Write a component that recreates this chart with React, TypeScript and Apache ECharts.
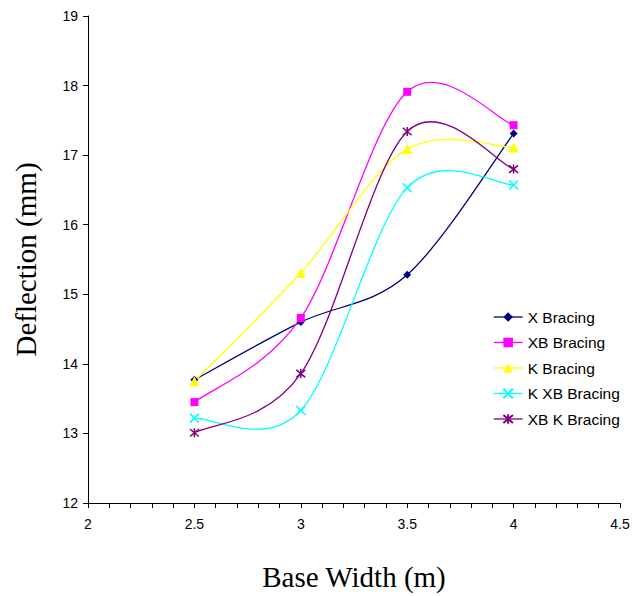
import React, { useEffect, useRef } from "react";
import * as echarts from "echarts";

const baseWidths = [2.5, 3, 3.5, 4];
const seriesNames = ["X Bracing", "XB Bracing", "K Bracing", "K XB Bracing", "XB K Bracing"];
const xBracing = [13.77, 14.6, 15.28, 17.31];
const xbBracing = [13.45, 14.66, 17.91, 17.43];
const kBracing = [13.75, 15.31, 17.09, 17.11];
const kxbBracing = [13.22, 13.33, 16.53, 16.57];
const xbkBracing = [13.01, 13.86, 17.34, 16.8];

const colors = ["#000080", "#FF00FF", "#FFFF00", "#00FFFF", "#800080"];
const symbols = [
  "diamond",
  "rect",
  "triangle",
  "path://M0,0L10,10M10,0L0,10",
  "path://M0,0L10,10M10,0L0,10M5,-1L5,11",
];
const symbolSizes = [8, 8, 10, 9, 9];

export default function App() {
  const ref = useRef<HTMLDivElement>(null);
  useEffect(() => {
    if (!ref.current) return;
    const chart = echarts.init(ref.current, undefined, { renderer: "svg" });
    const values = [xBracing, xbBracing, kBracing, kxbBracing, xbkBracing];
    const series: any[] = [];
    values.forEach((vals, i) => {
      const pts = vals.map((v, j) => [baseWidths[j], v]);
      // smooth (Catmull-Rom) curve through the points, via the axes' scales
      series.push({
        name: seriesNames[i] + " curve",
        type: "custom",
        z: 1,
        silent: true,
        encode: { x: 0, y: 1 },
        data: pts,
        renderItem: (params: any, api: any) => {
          const j = params.dataIndex;
          const n = pts.length;
          if (j >= n - 1) return null;
          const P = pts.map((p) => api.coord(p));
          const p0 = P[Math.max(j - 1, 0)];
          const p1 = P[j];
          const p2 = P[j + 1];
          const p3 = P[Math.min(j + 2, n - 1)];
          return {
            type: "bezierCurve",
            shape: {
              x1: p1[0],
              y1: p1[1],
              x2: p2[0],
              y2: p2[1],
              cpx1: p1[0] + (p2[0] - p0[0]) / 6,
              cpy1: p1[1] + (p2[1] - p0[1]) / 6,
              cpx2: p2[0] - (p3[0] - p1[0]) / 6,
              cpy2: p2[1] - (p3[1] - p1[1]) / 6,
            },
            style: { stroke: colors[i], lineWidth: 1.3, fill: "none" },
          };
        },
      });
      series.push({
        name: seriesNames[i],
        type: "line",
        z: 3,
        data: pts,
        symbol: symbols[i],
        symbolSize: symbolSizes[i],
        showSymbol: true,
        lineStyle: { color: colors[i], width: 1.3, opacity: 0 },
        itemStyle: {
          color: colors[i],
          borderColor: colors[i],
          borderWidth: i >= 3 ? 1.5 : 0,
        },
      });
    });
    chart.setOption({
      animation: false,
      backgroundColor: "#ffffff",
      grid: { left: 88, right: 22, top: 16, bottom: 90 },
      legend: {
        orient: "vertical",
        left: 488,
        top: 304,
        itemWidth: 29,
        itemHeight: 12,
        itemGap: 9.5,
        textStyle: { fontFamily: "Liberation Sans, Arial", fontSize: 15.5, color: "#000" },
        data: seriesNames.map((n, i) => ({
          name: n,
          lineStyle: { color: colors[i], width: 1.3, opacity: 1 },
        })),
      },
      xAxis: {
        type: "value",
        min: 2,
        max: 4.5,
        interval: 0.5,
        name: "Base Width (m)",
        nameLocation: "middle",
        nameGap: 59,
        nameTextStyle: { fontFamily: "Liberation Serif, Times New Roman", fontSize: 29, color: "#000" },
        axisLine: { onZero: false, lineStyle: { color: "#000", width: 1 } },
        axisTick: { show: true, length: 5, lineStyle: { color: "#000" } },
        minorTick: { show: true, splitNumber: 5, length: 5, lineStyle: { color: "#000" } },
        splitLine: { show: false },
        axisLabel: { fontFamily: "Liberation Sans, Arial", fontSize: 14, color: "#000", margin: 14 },
      },
      yAxis: {
        type: "value",
        min: 12,
        max: 19,
        interval: 1,
        name: "Deflection (mm)",
        nameLocation: "middle",
        nameGap: 48,
        nameTextStyle: { fontFamily: "Liberation Serif, Times New Roman", fontSize: 29, color: "#000" },
        axisLine: { show: true, lineStyle: { color: "#000", width: 1 } },
        axisTick: { show: true, length: 5, lineStyle: { color: "#000" } },
        splitLine: { show: false },
        axisLabel: { fontFamily: "Liberation Sans, Arial", fontSize: 14, color: "#000", margin: 10 },
      },
      series,
    });
    return () => chart.dispose();
  }, []);
  return (
    <div
      ref={ref}
      style={{ position: "absolute", left: 0, top: 0, width: 642, height: 596 }}
    />
  );
}
